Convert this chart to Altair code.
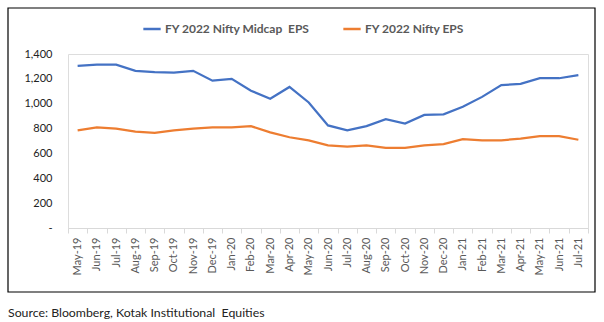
import altair as alt
import pandas as pd

months = ["May-19", "Jun-19", "Jul-19", "Aug-19", "Sep-19", "Oct-19", "Nov-19", "Dec-19",
          "Jan-20", "Feb-20", "Mar-20", "Apr-20", "May-20", "Jun-20", "Jul-20", "Aug-20",
          "Sep-20", "Oct-20", "Nov-20", "Dec-20", "Jan-21", "Feb-21", "Mar-21", "Apr-21",
          "May-21", "Jun-21", "Jul-21"]
midcap_eps = [1305, 1315, 1315, 1265, 1255, 1250, 1265, 1185, 1200, 1105, 1040, 1135, 1010,
              825, 785, 820, 875, 840, 910, 915, 975, 1055, 1150, 1160, 1205, 1205, 1230]
nifty_eps = [785, 810, 800, 775, 765, 785, 800, 810, 810, 820, 770, 730, 705,
             665, 655, 665, 645, 645, 665, 675, 715, 705, 705, 720, 740, 740, 710]
series_names = ["FY 2022 Nifty Midcap\u00a0 EPS", "FY 2022 Nifty EPS"]
series_colors = ["#4472C4", "#ED7D31"]
source_text = "Source: Bloomberg, Kotak Institutional\u00a0 Equities"

df = pd.DataFrame({"month": months, series_names[0]: midcap_eps, series_names[1]: nifty_eps})
long = df.melt(id_vars="month", var_name="series", value_name="eps")

FONT = "Lato"
GREY = "#595959"

lines = alt.Chart(long).mark_line(strokeWidth=2.25).encode(
    x=alt.X("month:N", sort=months, title=None,
            scale=alt.Scale(paddingInner=0, paddingOuter=0),
            axis=alt.Axis(labelAngle=270, labelFontSize=11, labelColor=GREY, labelFont=FONT,
                          domainColor="#d9d9d9", tickColor="#d9d9d9", tickSize=5,
                          tickBand="extent", labelPadding=4, grid=False)),
    y=alt.Y("eps:Q", title=None,
            scale=alt.Scale(domain=[0, 1400], nice=False),
            axis=alt.Axis(values=[0, 200, 400, 600, 800, 1000, 1200, 1400],
                          labelExpr="datum.value == 0 ? '-' : format(datum.value, ',')",
                          labelFontSize=11, labelColor="#222222", labelFont=FONT,
                          domain=False, ticks=False, grid=False, labelPadding=16)),
    color=alt.Color("series:N", sort=series_names,
                    scale=alt.Scale(domain=series_names, range=series_colors),
                    legend=alt.Legend(title=None, orient="none", direction="horizontal",
                                      legendX=74, legendY=-35, symbolType="stroke",
                                      symbolStrokeWidth=2.5, symbolSize=300,
                                      labelFont=FONT, labelFontSize=12, labelFontWeight="bold",
                                      labelColor=GREY, columnPadding=28, labelOffset=3)),
)

border = alt.Chart(pd.DataFrame({"k": [0]})).mark_rect(
    fill=None, stroke="black", strokeWidth=1.2
).encode(x=alt.value(-60), x2=alt.value(527), y=alt.value(-46), y2=alt.value(238))

source = alt.Chart(pd.DataFrame({"t": [source_text]})).mark_text(
    align="left", baseline="middle", font=FONT, fontSize=12.3, color="#222222"
).encode(text="t:N", x=alt.value(-60), y=alt.value(259))

chart = alt.layer(border, lines, source).properties(
    width=520, height=174,
    autosize=alt.AutoSizeParams(type="none"),
    padding={"left": 68, "top": 54, "right": 16, "bottom": 94},
).configure_view(stroke=None).configure(background="white")

chart.save("out.html", embed_options={"renderer": "svg", "actions": False})
